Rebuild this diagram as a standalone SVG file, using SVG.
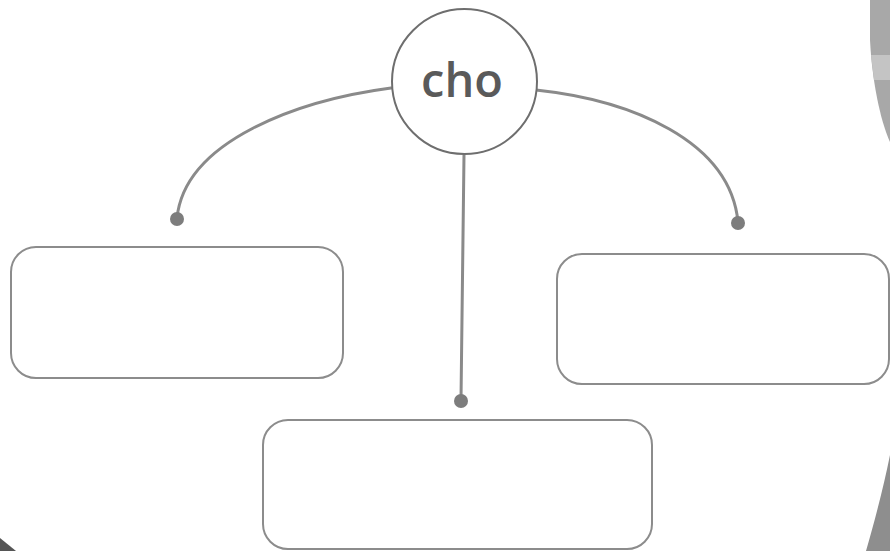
<svg xmlns="http://www.w3.org/2000/svg" width="890" height="551" viewBox="0 0 890 551">
  <style>
    .box { fill: none; stroke: #8c8c8c; stroke-width: 2; }
    .hub { fill: #ffffff; stroke: #6e6e6e; stroke-width: 2; }
    .link { fill: none; stroke: #8a8a8a; stroke-width: 3; stroke-linecap: round; }
    .dot { fill: #7d7d7d; }
    .label { font-family: "Open Sans", "Noto Sans", sans-serif; font-size: 47px; font-weight: 600; fill: #5a5a5a; }
  </style>
  <rect x="0" y="0" width="890" height="551" fill="#ffffff"/>
  <g id="edge-artifacts">
    <path d="M870,0 L890,0 L890,142 C880,120 872,80 870,40 Z" fill="#a8a8a8"/>
    <path d="M871,55 L890,55 L890,80 L874,80 Z" fill="#c4c4c4"/>
    <path d="M890,455 L890,551 L866,551 C875,520 884,485 890,455 Z" fill="#8e8e8e"/>
    <path d="M0,538 L16,551 L0,551 Z" fill="#555555"/>
  </g>
  <g id="connectors">
    <path class="link" d="M391,88 C300,100 185,140 177,218"/>
    <circle class="dot" cx="177" cy="219" r="7"/>
    <path class="link" d="M536,90 C630,100 730,140 738,222"/>
    <circle class="dot" cx="738" cy="223" r="7"/>
    <path class="link" d="M464,155 L461,400"/>
    <circle class="dot" cx="461" cy="401" r="7"/>
  </g>
  <g id="node-cho">
    <circle class="hub" cx="464.5" cy="81.5" r="72.5"/>
    <text class="label" x="462" y="97" text-anchor="middle">cho</text>
  </g>
  <g id="node-left">
    <rect class="box" x="11" y="247" width="332" height="131" rx="25"/>
  </g>
  <g id="node-right">
    <rect class="box" x="557" y="254" width="332" height="130" rx="25"/>
  </g>
  <g id="node-bottom">
    <rect class="box" x="263" y="420" width="389" height="129" rx="25"/>
  </g>
</svg>
